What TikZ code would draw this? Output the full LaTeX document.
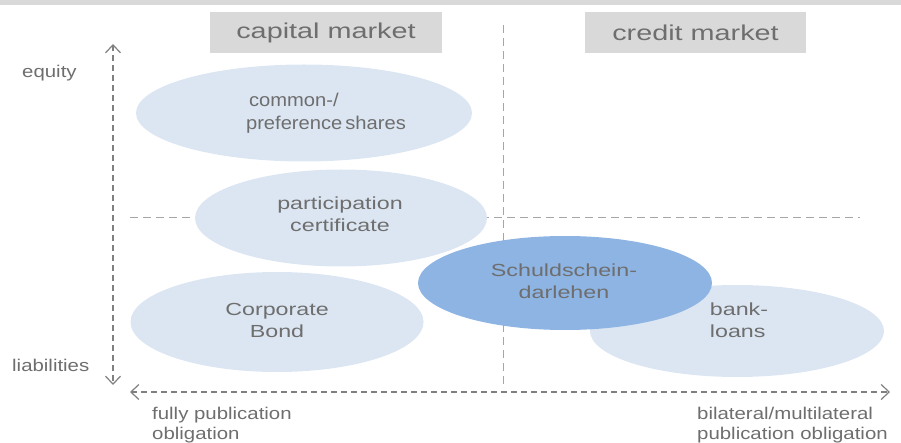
\documentclass[tikz,border=0pt]{standalone}
\usepackage{fontspec}
\setmainfont{Liberation Sans}
\newfontfamily\headfont[FakeStretch=1.34]{Liberation Sans}
\newfontfamily\bubblefont[FakeStretch=1.33]{Liberation Sans}
\newfontfamily\narrowbubblefont[FakeStretch=1.09]{Liberation Sans}
\newfontfamily\axisfont[FakeStretch=1.2]{Liberation Sans}
\usetikzlibrary{arrows.meta,shapes.geometric}
\definecolor{txtgray}{HTML}{6E6E6E}
\definecolor{boxgray}{HTML}{D9D9D9}
\definecolor{lightblue}{HTML}{DCE6F2}
\definecolor{midblue}{HTML}{8EB4E3}
\definecolor{linegray}{HTML}{A6A6A6}
\definecolor{axisgray}{HTML}{808080}
\tikzset{
  market/.style={fill=boxgray, text=txtgray, minimum width=232pt, minimum height=41pt, font=\headfont\fontsize{21.5}{24}\selectfont, inner sep=0pt},
  bubble/.style={ellipse, fill=lightblue, inner sep=0pt},
  keybubble/.style={bubble, fill=midblue},
  bubbletext/.style={text=txtgray, inner sep=0pt, align=center, font=\bubblefont\fontsize{17.5}{22}\selectfont},
  divider/.style={draw=linegray, line width=1pt, dash pattern=on 8pt off 5pt},
  axis/.style={draw=axisgray, line width=1.2pt, dash pattern=on 6pt off 4pt, {Straight Barb[length=8pt,width=15pt]}-{Straight Barb[length=8pt,width=15pt]}},
  axislabel/.style={text=txtgray, font=\axisfont\fontsize{17}{20}\selectfont, inner sep=0pt, align=left}
}
\begin{document}
\begin{tikzpicture}[x=1pt,y=-1pt]
\useasboundingbox (0,0) rectangle (901,443);
\fill[boxgray] (0,0) rectangle (901,5);

% column headers
\node[market] (cap) at (326,32.5) {capital market};
\node[market, minimum width=221pt] (cred) at (695.5,32.5) {credit market};

% dividing lines
\coordinate (vtop) at (503,25);
\coordinate (vbot) at (503,386);
\coordinate (hl) at (130,218);
\coordinate (hr) at (860,218);
\draw[divider] (vtop) -- (vbot);
\draw[divider] (hl) -- (hr);

% instruments
\node[bubble, minimum width=336pt, minimum height=97pt] (shares) at (304,113) {};
\node[bubble, minimum width=292pt, minimum height=97pt] (part) at (341,218) {};
\node[bubble, minimum width=293pt, minimum height=100pt] (bond) at (277,322) {};
\node[bubble, minimum width=294pt, minimum height=92pt] (bank) at (737,331) {};
\node[keybubble, minimum width=294pt, minimum height=94pt] (sd) at (565,283) {};

\node[bubbletext, align=left, font=\narrowbubblefont\fontsize{18.5}{23}\selectfont] (sharestxt) at (326,113) {\hspace*{3pt}common-/\\preference\hspace{3pt}shares};
\node[bubbletext] (parttxt) at (340,214) {participation\\certificate};
\node[bubbletext] (bondtxt) at (277,320) {Corporate\\Bond};
\node[bubbletext] (sdtxt) at (564,281) {Schuldschein-\\darlehen};
\node[bubbletext, align=left] (banktxt) at (739,320) {bank-\\loans};

% axes
\coordinate (ytop) at (113,44);
\coordinate (ybot) at (113,385);
\coordinate (xl) at (130,392);
\coordinate (xr) at (890,392);
\draw[axis] (ytop) -- (ybot);
\draw[axis] (xl) -- (xr);

\node[axislabel, anchor=base west] (eq) at (22,78) {equity};
\node[axislabel, anchor=base west] (li) at (12,371) {liabilities};
\node[axislabel, anchor=north west] (full) at (152,407) {fully publication\\obligation};
\node[axislabel, anchor=north west] (bil) at (697,407) {bilateral/multilateral\\publication obligation};
\end{tikzpicture}
\end{document}
